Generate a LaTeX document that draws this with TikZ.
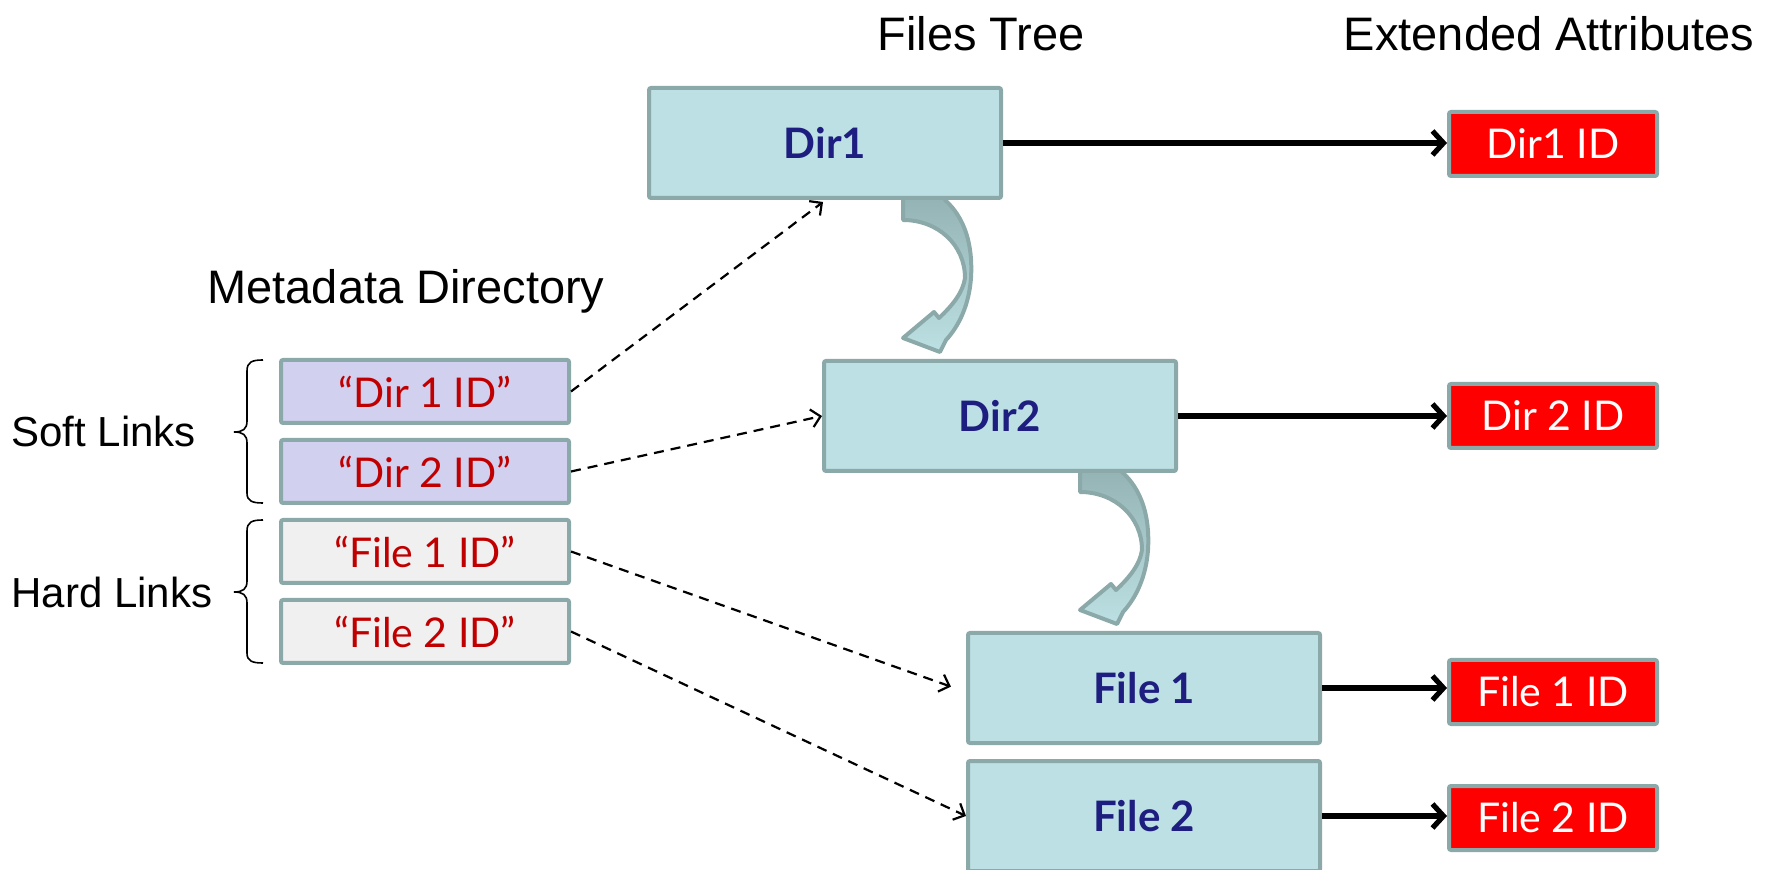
\documentclass[tikz,border=0pt]{standalone}
\usepackage{fontspec}
\setmainfont{Liberation Sans}
\newfontfamily\boxfont{Lato}
\usetikzlibrary{arrows.meta}

\definecolor{treefill}{HTML}{BCE0E3}
\definecolor{treeedge}{HTML}{8CA9AA}
\definecolor{shafttop}{HTML}{93B2B3}
\definecolor{navy}{HTML}{1E1E80}
\definecolor{idred}{HTML}{FF0000}
\definecolor{textred}{HTML}{C00000}
\definecolor{softfill}{HTML}{D1D1EF}
\definecolor{hardfill}{HTML}{F0F0F0}

\tikzset{
  foldarrow/.pic={
    \path[draw=treeedge, line width=2pt, line join=round,
          top color=shafttop, bottom color=treefill]
      (0,-6) -- (42,-6) -- (42,0)
      .. controls (62,18) and (70,45) .. (68,78)
      .. controls (66,105) and (56,126) .. (43,140)
      -- (37,152) -- (0,138) -- (31,112) -- (36,118)
      .. controls (50,105) and (60,92) .. (62,78)
      .. controls (62,45) and (35,20) .. (0,20) -- cycle;
  }
}

\begin{document}
\begin{tikzpicture}[x=0.5pt,y=-0.5pt,
  treebox/.style={draw=treeedge, line width=2pt, fill=treefill, rounded corners=1pt,
    minimum width=176pt, minimum height=55pt, inner sep=0pt,
    font=\boxfont\bfseries\fontsize{21pt}{25pt}\selectfont, text=navy},
  attrbox/.style={draw=treeedge, line width=2pt, fill=idred, rounded corners=1pt,
    minimum width=104pt, minimum height=32pt, inner sep=0pt,
    font=\boxfont\fontsize{20.5pt}{24pt}\selectfont, text=white},
  linkbox/.style={draw=treeedge, line width=2pt, rounded corners=1pt,
    minimum width=144pt, minimum height=31.5pt, inner sep=0pt,
    font=\boxfont\fontsize{20.5pt}{24pt}\selectfont, text=textred},
  heading/.style={font=\fontsize{23.5pt}{28pt}\selectfont, inner sep=0pt},
  grouplabel/.style={font=\fontsize{21pt}{25pt}\selectfont, inner sep=0pt, anchor=west},
  attrlink/.style={line width=2.6pt, -{Straight Barb[length=5.5pt,width=12pt,line width=2.6pt]}},
  idlink/.style={line width=1.1pt, dash pattern=on 5pt off 3.5pt,
    -{Straight Barb[length=4.5pt,width=9pt,line width=1.1pt]}},
  bracket/.style={line width=0.8pt}
]
\clip (0,0) rectangle (1771,870);

% headings
\node[heading] (tTree)  at (981,34)  {Files Tree};
\node[heading] (tAttr)  at (1549,34) {Extended Attributes};
\node[heading] (tMeta)  at (406,291) {Metadata Directory};

% turning arrows between tree levels (drawn first, boxes cover their tops)
\pic at (903,200) {foldarrow};
\pic at (1080,472) {foldarrow};

% files tree
\node[treebox] (dir1)  at (825,143) {Dir1};
\node[treebox] (dir2)  at (1000,416) {Dir2};
\node[treebox] (file1) at (1144,688) {File 1};
\node[treebox] (file2) at (1144,816) {File 2};

% extended attributes
\node[attrbox] (a1) at (1553,144) {Dir1 ID};
\node[attrbox] (a2) at (1553,416) {Dir 2 ID};
\node[attrbox] (a3) at (1553,692) {File 1 ID};
\node[attrbox] (a4) at (1553,818) {File 2 ID};

% metadata directory entries
\node[linkbox, fill=softfill] (m1) at (425,391.5) {“Dir 1 ID”};
\node[linkbox, fill=softfill] (m2) at (425,471.5) {“Dir 2 ID”};
\node[linkbox, fill=hardfill] (m3) at (425,551.5) {“File 1 ID”};
\node[linkbox, fill=hardfill] (m4) at (425,631.5) {“File 2 ID”};

% group labels and brackets
\node[grouplabel] (soft) at (11,431) {Soft Links};
\node[grouplabel] (hard) at (11,592) {Hard Links};
\draw[bracket] (263,360) .. controls (252,360) and (247,362) .. (247,371) -- (247,421)
  .. controls (247,429) and (243,432) .. (234,432)
  .. controls (243,432) and (247,435) .. (247,443) -- (247,493)
  .. controls (247,501) and (252,503) .. (263,503);
\draw[bracket] (263,520) .. controls (252,520) and (247,522) .. (247,531) -- (247,581)
  .. controls (247,589) and (243,592) .. (234,592)
  .. controls (243,592) and (247,595) .. (247,603) -- (247,653)
  .. controls (247,661) and (252,663) .. (263,663);

% tree nodes to their attributes
\draw[attrlink] (dir1.east)  -- (dir1.east -| a1.west);
\draw[attrlink] (dir2.east)  -- (dir2.east -| a2.west);
\draw[attrlink] (file1.east) -- (file1.east -| a3.west);
\draw[attrlink] (file2.east) -- (file2.east -| a4.west);

% directory entries to tree nodes
\draw[idlink] (m1.east) -- ([xshift=-1pt,yshift=-1pt]dir1.south);
\draw[idlink] (m2.east) -- (dir2.west);
\draw[idlink, shorten >=8pt] (m3.east) -- ([yshift=-2pt]file1.west);
\draw[idlink] (m4.east) -- (file2.west);
\end{tikzpicture}
\end{document}
